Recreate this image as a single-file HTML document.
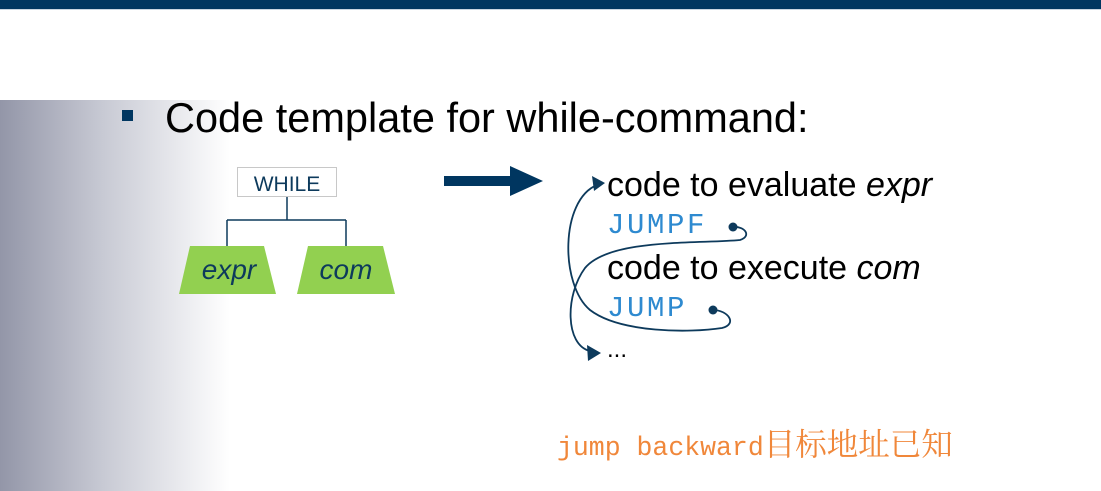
<!DOCTYPE html>
<html><head><style>
body{margin:0;width:1101px;height:491px;position:relative;overflow:hidden;background:#fff;font-family:"Liberation Sans","Noto Sans CJK SC",sans-serif}
.t{position:absolute;white-space:nowrap;line-height:1}
.m{font-family:'Liberation Mono',monospace;color:#2e8ad0;font-size:29px;letter-spacing:2.6px}
</style></head><body>
<div style="position:absolute;left:0;top:0;width:1101px;height:9px;background:#003660"></div>
<div style="position:absolute;left:0;top:9px;width:1101px;height:1px;background:#c8d4e0"></div>
<div style="position:absolute;left:0;top:100px;width:230px;height:391px;background:linear-gradient(to right,#9396a8,#c8cad4 45%,#fff)"></div>
<div style="position:absolute;left:122px;top:110px;width:11px;height:11px;background:#003660"></div>
<div class="t" style="left:165px;top:97px;font-size:41.5px">Code template for while-command:</div>
<svg width="1101" height="491" style="position:absolute;left:0;top:0">
<rect x="237.5" y="167.5" width="99" height="29" fill="#fff" stroke="#c8c8c8"/>
<text x="287" y="191" text-anchor="middle" font-family="Liberation Sans" font-size="21" fill="#0d3a5c">WHILE</text>
<path d="M287 197V220M227 220H346M227 220V246M346 220V246" stroke="#0d3a5c" stroke-width="1.5" fill="none"/>
<polygon points="190,246 264,246 276,294 179,294" fill="#92d050"/>
<polygon points="308,246 383,246 395,294 297,294" fill="#92d050"/>
<text x="229" y="279" text-anchor="middle" font-family="Liberation Sans" font-style="italic" font-size="28" fill="#0d3a5c">expr</text>
<text x="346" y="279" text-anchor="middle" font-family="Liberation Sans" font-style="italic" font-size="28" fill="#0d3a5c">com</text>
<polygon points="444,176 510,176 510,166 543,181 510,196 510,186 444,186" fill="#003660"/>
<g stroke="#0d3a5c" stroke-width="1.8" fill="none">
<path d="M733 227C745 226 752 236 740 240C700 244 610 238 585 268C565 295 565 345 590 351"/>
<path d="M713 310C728 310 738 324 722 328C690 333 620 333 590 310C560 285 560 200 597 185"/>
</g>
<circle cx="733" cy="227" r="4.5" fill="#0d3a5c"/>
<circle cx="713" cy="310" r="4.5" fill="#0d3a5c"/>
<polygon points="605,183 592,176 594,191" fill="#0d3a5c"/>
<polygon points="601,353 587,345 588,361" fill="#0d3a5c"/>
</svg>
<div class="t" style="left:607px;top:168px;font-size:34px">code to evaluate <i>expr</i></div>
<div class="t m" style="left:607px;top:211px">JUMPF</div>
<div class="t" style="left:607px;top:251px;font-size:34px">code to execute <i>com</i></div>
<div class="t m" style="left:607px;top:294px">JUMP</div>
<div class="t" style="left:607px;top:338px;font-size:24px">...</div>
<div class="t" style="left:557px;top:427px;font-size:26.5px;font-family:'Liberation Mono',monospace;color:#f0873a">jump backward<span style="font-family:'Noto Serif CJK SC','Noto Sans CJK SC',serif;font-size:31.5px">目标地址已知</span></div>
</body></html>
